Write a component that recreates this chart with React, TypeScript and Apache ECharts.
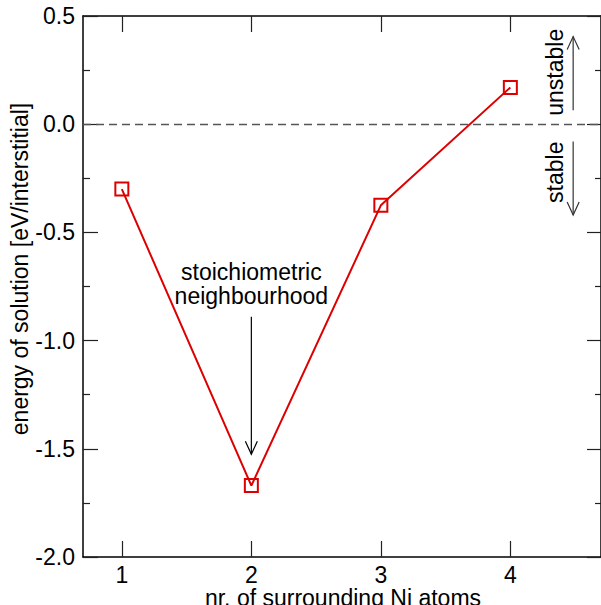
import React, { useEffect, useRef } from "react";
import * as echarts from "echarts";

// ---- data ----
const surroundingNi = [1, 2, 3, 4];
const energies = [-0.3, -1.67, -0.375, 0.17];
const xTickValues = [1, 2, 3, 4];
const xRange = [0.7, 4.7];
const yRange = [-2.0, 0.5];
const yStep = 0.5;

const xAxisTitle = "nr. of surrounding Ni atoms";
const yAxisTitle = "energy of solution [eV/interstitial]";

// annotations (data coordinates)
const noteText = "stoichiometric\nneighbourhood";
const noteAnchor = [2, -0.737];
const noteArrow = [[2, -0.89], [2, -1.525]];
const unstableLabel = [4.346, 0.24];
const unstableArrow = [[4.485, 0.065], [4.485, 0.405]];
const stableLabel = [4.346, -0.222];
const stableArrow = [[4.485, -0.08], [4.485, -0.42]];

const FONT = "'Liberation Sans', Arial, Helvetica, sans-serif";
const RED = "#dd0000";
const FS = 23;

export default function App() {
  const ref = useRef<HTMLDivElement>(null);
  useEffect(() => {
    if (!ref.current) return;
    const chart = echarts.init(ref.current, undefined, { renderer: "svg" });
    const grid = { left: 83, top: 16, width: 520, height: 541 };
    const tickLabel = { fontFamily: FONT, fontSize: FS, color: "#000" };
    const axisLine = { show: true, onZero: false, lineStyle: { color: "#000", width: 1.5 } };
    const tickStyle = { color: "#222", width: 1.2 };
    chart.setOption({
      animation: false,
      backgroundColor: "#fff",
      grid,
      xAxis: [
        {
          type: "value",
          position: "bottom",
          min: xRange[0],
          max: xRange[1],
          splitLine: { show: false },
          axisLine,
          axisTick: { inside: true, length: 16, customValues: xTickValues, lineStyle: tickStyle },
          axisLabel: { ...tickLabel, margin: 6, customValues: xTickValues, formatter: (v: number) => String(v) },
        },
        {
          type: "value",
          position: "top",
          min: xRange[0],
          max: xRange[1],
          splitLine: { show: false },
          axisLine,
          axisTick: { inside: true, length: 16, customValues: xTickValues, lineStyle: tickStyle },
          axisLabel: { show: false },
        },
      ],
      yAxis: [
        {
          type: "value",
          position: "left",
          min: yRange[0],
          max: yRange[1],
          interval: yStep,
          splitLine: { show: false },
          axisLine,
          axisTick: { inside: true, length: 15, lineStyle: tickStyle },
          minorTick: { show: true, splitNumber: 2, length: 7, lineStyle: tickStyle },
          axisLabel: { ...tickLabel, margin: 8, formatter: (v: number) => v.toFixed(1) },
        },
        {
          type: "value",
          position: "right",
          min: yRange[0],
          max: yRange[1],
          interval: yStep,
          splitLine: { show: false },
          axisLine,
          axisTick: { inside: true, length: 14, lineStyle: tickStyle },
          minorTick: { show: true, splitNumber: 2, length: 6, lineStyle: tickStyle },
          axisLabel: { show: false },
        },
      ],
      series: [
        {
          type: "line",
          xAxisIndex: 0,
          yAxisIndex: 0,
          data: surroundingNi.map((x, i) => [x, energies[i]]),
          lineStyle: { color: RED, width: 2 },
          symbol: "rect",
          symbolSize: 13,
          itemStyle: { color: "transparent", borderColor: RED, borderWidth: 2 },
          markLine: {
            silent: true,
            symbol: ["none", "none"],
            label: { show: false },
            lineStyle: { type: [8, 5], color: "#555", width: 1.3 },
            data: [{ yAxis: 0 }],
          },
          z: 3,
        },
      ],
    });

    const px = (p: number[]) => chart.convertToPixel({ seriesIndex: 0 }, p) as number[];
    const arrow = (pts: number[][], color: string) => {
      const a = px(pts[0]);
      const b = px(pts[1]);
      const dir = Math.sign(b[1] - a[1]);
      return [
        { type: "line", shape: { x1: a[0], y1: a[1], x2: b[0], y2: b[1] }, style: { stroke: color, lineWidth: 1.2 }, silent: true },
        {
          type: "polyline",
          shape: { points: [[b[0] - 6, b[1] - dir * 13], [b[0], b[1]], [b[0] + 6, b[1] - dir * 13]] },
          style: { stroke: color, lineWidth: 1.2, fill: null },
          silent: true,
        },
      ];
    };
    const note = px(noteAnchor);
    const ul = px(unstableLabel);
    const sl = px(stableLabel);
    const textStyle = (t: string, lh = 24) => ({
      text: t,
      fontFamily: FONT,
      fontSize: FS,
      fill: "#000",
      align: "center",
      verticalAlign: "middle",
      lineHeight: lh,
    });
    chart.setOption({
      graphic: [
        { type: "text", x: note[0], y: note[1], style: textStyle(noteText), silent: true },
        ...arrow(noteArrow, "#000"),
        { type: "text", x: ul[0], y: ul[1], rotation: Math.PI / 2, style: textStyle("unstable"), silent: true },
        ...arrow(unstableArrow, "#333"),
        { type: "text", x: sl[0], y: sl[1], rotation: Math.PI / 2, style: textStyle("stable"), silent: true },
        ...arrow(stableArrow, "#333"),
        { type: "text", x: 343, y: 598, style: textStyle(xAxisTitle, 23), silent: true },
        { type: "text", x: 20, y: 269, rotation: Math.PI / 2, style: textStyle(yAxisTitle), silent: true },
      ],
    });
    return () => chart.dispose();
  }, []);
  return <div ref={ref} style={{ position: "fixed", left: 0, top: 0, width: 601, height: 605 }} />;
}
